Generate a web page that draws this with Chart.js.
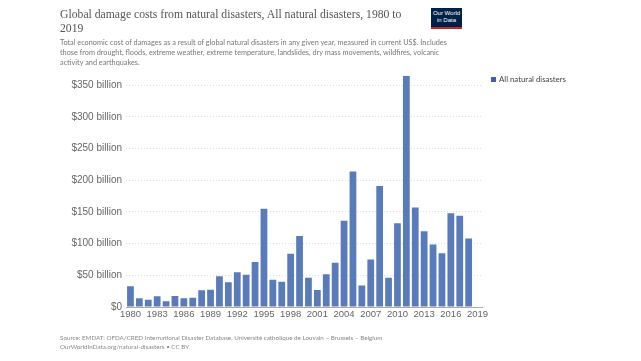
<!DOCTYPE html>
<html><head><meta charset="utf-8">
<script src="https://cdn.jsdelivr.net/npm/chart.js@4"></script>
<style>
body{margin:0;width:641px;height:361px;background:#fff;position:relative;overflow:hidden;font-family:Lato,"Liberation Sans",Arial,sans-serif}
canvas{position:absolute;left:0;top:0}
.t{position:absolute;white-space:nowrap}
#title{left:60px;top:8px;font-family:"Liberation Serif",serif;font-size:13px;line-height:14px;color:#555}
#sub{left:60px;top:37.5px;font-size:8px;line-height:10px;color:#777}
#foot{left:60px;top:332.5px;font-size:7.5px;line-height:9.5px;color:#888}
#logo{left:431px;top:8px;width:31px;background:#002147;border-bottom:2px solid #ce261e;color:#fff;font-family:"Liberation Sans",Arial,sans-serif;font-size:6px;line-height:7px;text-align:center;padding-top:2px;box-sizing:content-box;height:17px}
#legend{left:491px;top:75px;font-size:7.7px;line-height:9px;color:#444}
#legend i{display:inline-block;width:5px;height:5px;background:#3c61ae;margin-right:3px;vertical-align:0px}
</style></head><body>
<canvas id="c" width="641" height="361"></canvas>
<div class="t" id="title"><span data-w="342">Global damage costs from natural disasters, All natural disasters, 1980 to</span><br>2019</div>
<div class="t" id="sub"><span data-w="387">Total economic cost of damages as a result of global natural disasters in any given year, measured in current US$. Includes</span><br>those from drought, floods, extreme weather, extreme temperature, landslides, dry mass movements, wildfires, volcanic<br>activity and earthquakes.</div>
<div class="t" id="foot"><span data-w="323">Source: EMDAT: OFDA/CRED International Disaster Database, Université catholique de Louvain – Brussels – Belgium</span><br>OurWorldInData.org/natural-disasters • CC BY</div>
<div class="t" id="logo">Our World<br>in Data</div>
<div class="t" id="legend"><i></i><span id="legtxt" data-w="67"></span></div>
<script>
const years = ["1980","1981","1982","1983","1984","1985","1986","1987","1988","1989","1990","1991","1992","1993","1994","1995","1996","1997","1998","1999","2000","2001","2002","2003","2004","2005","2006","2007","2008","2009","2010","2011","2012","2013","2014","2015","2016","2017","2018","2019"];
const seriesName = "All natural disasters";
const damageBillions = [32.6,13.7,11.6,16.8,8.9,17.4,13.7,14.7,26.3,27.4,48.4,38.9,54.7,51,71,155,43,40,84,112,46,27,51.6,70,136,214,34,75,191,46,132,365,157,119.5,98.5,84.8,148,144,108,null];
const yTicks = [0,50,100,150,200,250,300,350];

document.getElementById('legtxt').textContent = seriesName;
// fit text widths to reference
document.querySelectorAll('[data-w]').forEach(s=>{
  const box = s.parentElement;
  const fs = parseFloat(getComputedStyle(box).fontSize);
  const w = s.getBoundingClientRect().width;
  box.style.fontSize = (fs * parseFloat(s.dataset.w) / w) + 'px';
});

new Chart(document.getElementById('c'), {
  type: 'bar',
  data: { labels: years, datasets: [{ label: seriesName, data: damageBillions, backgroundColor: '#5a7bba', borderWidth: 0, barPercentage: 0.76, categoryPercentage: 1 }] },
  options: {
    responsive: false, animation: false, devicePixelRatio: 1,
    layout: { padding: { left: 60, right: 159, top: 75.7, bottom: 40 } },
    plugins: { legend: { display: false }, tooltip: { enabled: false } },
    scales: {
      x: {
        afterFit: s => { s.height = 14; },
        grid: { display: false, drawTicks: false },
        border: { display: true, color: '#aaa', width: 1 },
        ticks: { autoSkip: false, maxRotation: 0, padding: 2, color: '#666', font: { family: 'Liberation Sans', size: 9.5 },
          callback: (v, i) => (i % 3 === 0 ? years[i] : '') }
      },
      y: {
        min: 0, max: 365,
        afterFit: s => { s.width = 66; },
        afterBuildTicks: s => { s.ticks = yTicks.map(v => ({ value: v })); },
        grid: { color: '#ddd', drawTicks: false, lineWidth: 1 },
        border: { display: false, dash: [1, 2] },
        ticks: { padding: 4, color: '#666', font: { family: 'Liberation Sans', size: 10 },
          callback: v => (v === 0 ? '$0' : '$' + v + ' billion') }
      }
    }
  }
});
</script>
</body></html>
